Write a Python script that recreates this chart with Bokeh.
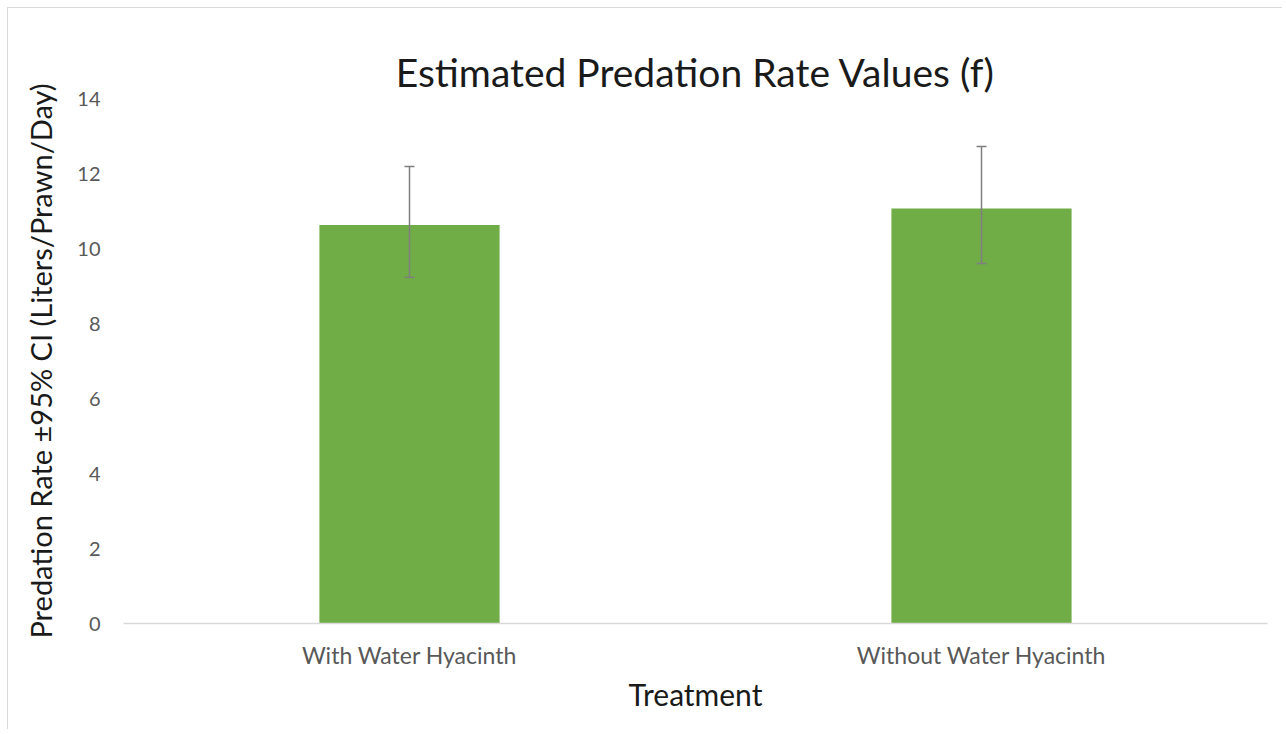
from bokeh.plotting import figure
from bokeh.models import ColumnDataSource, Whisker, TeeHead, FixedTicker, Range1d, FactorRange
from bokeh.embed import file_html
from bokeh.resources import INLINE

categories = ["With Water Hyacinth", "Without Water Hyacinth"]
rates = [10.63, 11.07]
ci_lower = [9.23, 9.60]
ci_upper = [12.19, 12.72]
y_ticks = [0, 2, 4, 6, 8, 10, 12, 14]

FONT = "Lato"

src = ColumnDataSource(data=dict(cat=categories, rate=rates, lo=ci_lower, hi=ci_upper))

p = figure(x_range=FactorRange(*categories, range_padding=0), y_range=Range1d(0, 14),
           width=1275, height=722, output_backend="svg", toolbar_location=None,
           title="Estimated Predation Rate Values (f)",
           min_border_left=115, min_border_right=16, min_border_top=90, min_border_bottom=107)
p.styles = {"border-left": "1px solid #d9d9d9", "border-top": "1px solid #d9d9d9",
            "margin-left": "7px", "margin-top": "7px"}

p.title.text_font = FONT
p.title.text_font_size = "39px"
p.title.text_font_style = "normal"
p.title.text_color = "#1a1a1a"
p.title.align = "center"
p.title.standoff = 8

p.vbar(x="cat", top="rate", width=0.315, source=src, color="#70ad47", line_color=None)

w = Whisker(base="cat", lower="lo", upper="hi", source=src, line_color="#7f7f7f", line_width=1.5,
            upper_head=TeeHead(size=10, line_color="#7f7f7f", line_width=1.5),
            lower_head=TeeHead(size=10, line_color="#7f7f7f", line_width=1.5),
            level="overlay")
p.add_layout(w)

p.outline_line_color = None
p.xgrid.grid_line_color = None
p.ygrid.grid_line_color = None

p.yaxis.ticker = FixedTicker(ticks=y_ticks)
p.yaxis.axis_line_color = None
p.yaxis.major_tick_line_color = None
p.yaxis.minor_tick_line_color = None
p.yaxis.major_label_text_font = FONT
p.yaxis.major_label_text_font_size = "20px"
p.yaxis.major_label_text_color = "#595959"
p.yaxis.major_label_standoff = 17
p.yaxis.axis_label = "Predation Rate \u00b195% CI (Liters/Prawn/Day)"
p.yaxis.axis_label_text_font = FONT
p.yaxis.axis_label_text_font_size = "29px"
p.yaxis.axis_label_text_font_style = "normal"
p.yaxis.axis_label_text_color = "#1a1a1a"
p.yaxis.axis_label_standoff = 16

p.xaxis.axis_line_color = "#d9d9d9"
p.xaxis.axis_line_width = 1.5
p.xaxis.major_tick_line_color = None
p.xaxis.minor_tick_line_color = None
p.xaxis.major_label_text_font = FONT
p.xaxis.major_label_text_font_size = "23px"
p.xaxis.major_label_text_color = "#595959"
p.xaxis.major_label_standoff = 11
p.xaxis.axis_label = "Treatment"
p.xaxis.axis_label_text_font = FONT
p.xaxis.axis_label_text_font_size = "30px"
p.xaxis.axis_label_text_font_style = "normal"
p.xaxis.axis_label_text_color = "#1a1a1a"
p.xaxis.axis_label_standoff = 4

open("out.html", "w").write(file_html(p, INLINE))
